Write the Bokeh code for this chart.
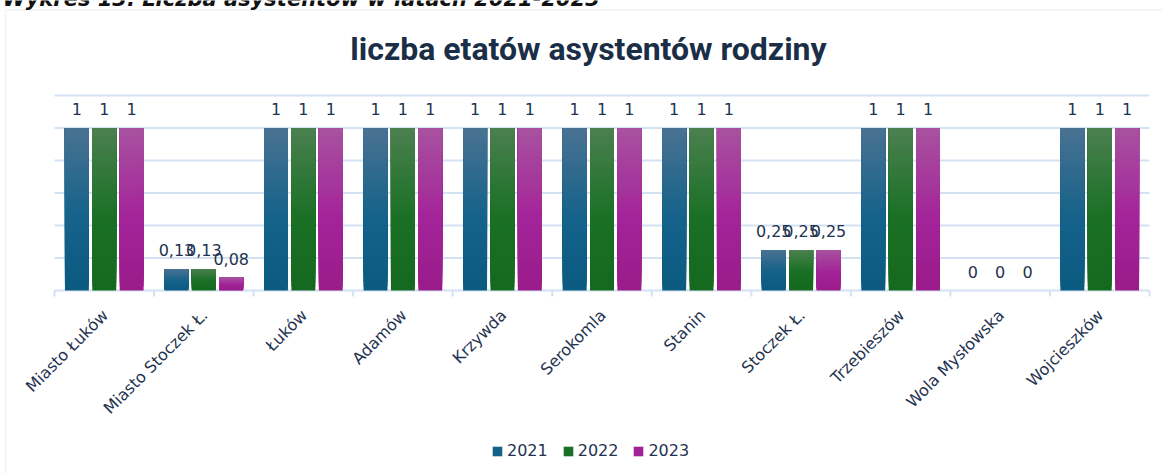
import math
from bokeh.plotting import figure
from bokeh.models import (ColumnDataSource, Range1d, Legend, LegendItem, Label,
                          BoxAnnotation)
from bokeh.core.properties import value
from bokeh.embed import file_html
from bokeh.resources import INLINE

categories = ["Miasto Łuków", "Miasto Stoczek Ł.", "Łuków", "Adamów", "Krzywda",
              "Serokomla", "Stanin", "Stoczek Ł.", "Trzebieszów", "Wola Mysłowska",
              "Wojcieszków"]
years = ["2021", "2022", "2023"]
v2021 = [1, 0.13, 1, 1, 1, 1, 1, 0.25, 1, 0, 1]
v2022 = [1, 0.13, 1, 1, 1, 1, 1, 0.25, 1, 0, 1]
v2023 = [1, 0.08, 1, 1, 1, 1, 1, 0.25, 1, 0, 1]
series = [v2021, v2022, v2023]
y_ticks = [0, 0.2, 0.4, 0.6, 0.8, 1.0, 1.2]
title_text = "liczba etatów asystentów rodziny"
caption_text = "Wykres 13. Liczba asystentów w latach 2021-2023"

# gradient stops: (top, middle, bottom)
grad = [
    ((0x4a, 0x72, 0x92), (0x15, 0x62, 0x8a), (0x0b, 0x5a, 0x80)),
    ((0x4b, 0x80, 0x50), (0x1a, 0x70, 0x25), (0x15, 0x69, 0x1e)),
    ((0xa8, 0x52, 0x9f), (0xa3, 0x24, 0x99), (0x9a, 0x1c, 0x8a)),
]
offsets = [-0.275, 0.0, 0.275]
bar_w = 0.24
NSL = 40
TXT = "#1f3350"
GRID = "#d3e2f3"

W, H = 1162, 474
# pixel geometry of the plotting area
PX_L, PX_R = 54, 1149      # x of first/last category boundary
PX_TOP, PX_ZERO = 95, 290  # y of top tick value and of zero


def mix(a, b, t):
    return tuple(int(round(a[i] + (b[i] - a[i]) * t)) for i in range(3))


def grad_color(g, t_from_top):
    if t_from_top < 0.55:
        c = mix(g[0], g[1], t_from_top / 0.55)
    else:
        c = mix(g[1], g[2], (t_from_top - 0.55) / 0.45)
    return "#%02x%02x%02x" % c


def fmt(v):
    if float(v).is_integer():
        return str(int(v))
    return ("%.2f" % v).replace(".", ",")


n = len(categories)
ymax = y_ticks[-1]
xs = (PX_R - PX_L) / n               # px per category
ys = (PX_ZERO - PX_TOP) / ymax       # px per unit
x_range = Range1d(-PX_L / xs, n + (W - PX_R) / xs)
y_range = Range1d(-(H - PX_ZERO) / ys, ymax + PX_TOP / ys)

p = figure(width=W, height=H, output_backend="svg", toolbar_location=None,
           x_range=x_range, y_range=y_range,
           x_axis_location=None, y_axis_location=None,
           min_border=0, min_border_left=0, min_border_right=0,
           min_border_top=0, min_border_bottom=0)
p.outline_line_color = None
p.background_fill_color = "white"
p.border_fill_color = "white"
p.xgrid.visible = False
p.ygrid.visible = False

# chart-area border (left and top visible)
p.add_layout(BoxAnnotation(left=5, right=W + 20, top=H - 9.5, bottom=-20,
                           left_units="screen", right_units="screen",
                           top_units="screen", bottom_units="screen",
                           fill_color=None, line_color=GRID, line_width=2))

# document caption above the chart (cut by the top edge, as in the source image)
p.add_layout(Label(x=2, y=H + 2, x_units="screen", y_units="screen", text=caption_text,
                   text_align="left", text_baseline="alphabetic",
                   text_font="DejaVu Sans", text_font_style="bold italic",
                   text_font_size="21px", text_color="#111111"))

# title
p.add_layout(Label(x=588, y=H - 48, x_units="screen", y_units="screen", text=title_text,
                   text_align="center", text_baseline="alphabetic",
                   text_font="Roboto", text_font_style="bold", text_font_size="32px",
                   text_color="#1b2e47"))

# horizontal gridlines
p.segment(x0=[0] * len(y_ticks), x1=[n] * len(y_ticks), y0=y_ticks, y1=y_ticks,
          line_color=GRID, line_width=2)

# category boundary ticks
bounds = list(range(n + 1))
tick_len = 6 / ys
p.segment(x0=bounds, x1=bounds, y0=[0] * len(bounds), y1=[-tick_len] * len(bounds),
          line_color=GRID, line_width=2)

centers = [i + 0.5 for i in range(n)]

legend_items = []
for s, vals in enumerate(series):
    L, R, B, T, C = [], [], [], [], []
    for i, v in enumerate(vals):
        if v <= 0:
            continue
        cx = centers[i] + offsets[s]
        for k in range(NSL):
            L.append(cx - bar_w / 2)
            R.append(cx + bar_w / 2)
            B.append(v * k / NSL)
            T.append(v)
            C.append(grad_color(grad[s], 1 - (k + 0.5) / NSL))
    p.quad(left=L, right=R, bottom=B, top=T, fill_color=C, line_color=None)
    # zero-area proxy used only for the legend swatch
    proxy = p.quad(left=[0], right=[0], bottom=[0], top=[0],
                   fill_color=grad_color(grad[s], 0.6), line_color=None)
    legend_items.append(LegendItem(label=years[s], renderers=[proxy]))
    src = ColumnDataSource(dict(x=[c + offsets[s] for c in centers], y=vals,
                                t=[fmt(v) for v in vals]))
    p.text(x="x", y="y", text="t", source=src, text_align="center", text_baseline="bottom",
           y_offset=-13, text_font=value("DejaVu Sans"), text_font_size="16px",
           text_color=TXT)

# category labels (rotated)
p.text(x=centers, y=[0] * n, text=categories, angle=math.pi / 4,
       text_align="right", text_baseline="middle", x_offset=1, y_offset=22,
       text_font=value("DejaVu Sans"), text_font_size="16px", text_color=TXT)

legend = Legend(items=legend_items, orientation="horizontal", location=(491, 14))
legend.glyph_width = 12
legend.glyph_height = 12
legend.label_standoff = 4
legend.spacing = 14
legend.label_text_font = "DejaVu Sans"
legend.label_text_font_size = "16px"
legend.label_text_color = TXT
legend.border_line_color = None
legend.background_fill_alpha = 0
legend.margin = 0
legend.padding = 2
p.add_layout(legend, "center")

open("out.html", "w").write(file_html(p, INLINE))
